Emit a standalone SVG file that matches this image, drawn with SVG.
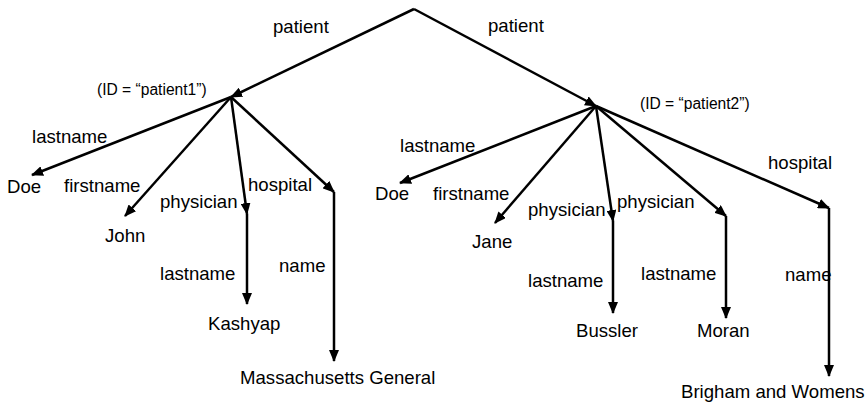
<svg xmlns="http://www.w3.org/2000/svg" width="867" height="404" viewBox="0 0 867 404">
<style>
text{font-family:"Liberation Sans",Arial,sans-serif;font-size:18.6px;fill:#000}
text.id{font-size:15.6px}
.e{stroke:#000;stroke-width:2.5;fill:none;marker-end:url(#ah)}
</style>
<defs>
<marker id="ah" markerUnits="userSpaceOnUse" markerWidth="12" markerHeight="10" refX="11" refY="5" orient="auto" viewBox="0 0 12 10">
<path d="M0,0 L12,5 L0,10 z" fill="#000"/>
</marker>
</defs>
<rect width="867" height="404" fill="#fff"/>
<g id="connectors">
<line class="e" x1="414" y1="9" x2="231" y2="97"/>
<line class="e" x1="414" y1="9" x2="596" y2="106"/>
<line class="e" x1="231" y1="97" x2="32" y2="175"/>
<line class="e" x1="231" y1="97" x2="125" y2="216"/>
<line class="e" x1="231" y1="97" x2="247" y2="214"/>
<line class="e" x1="247" y1="214" x2="247" y2="304"/>
<line class="e" x1="231" y1="97" x2="334" y2="192"/>
<line class="e" x1="334" y1="192" x2="334" y2="361"/>
<line class="e" x1="596" y1="106" x2="400" y2="183"/>
<line class="e" x1="596" y1="106" x2="495" y2="223"/>
<line class="e" x1="596" y1="106" x2="613" y2="221"/>
<line class="e" x1="613" y1="221" x2="613" y2="313"/>
<line class="e" x1="596" y1="106" x2="726" y2="216"/>
<line class="e" x1="726" y1="216" x2="726" y2="318"/>
<line class="e" x1="596" y1="106" x2="829" y2="208"/>
<line class="e" x1="829" y1="208" x2="829" y2="376"/>
</g>
<g id="edge-labels">
<text x="273" y="33">patient</text>
<text x="488" y="32">patient</text>
<text x="32" y="143">lastname</text>
<text x="64" y="192">firstname</text>
<text x="160" y="208">physician</text>
<text x="248" y="191">hospital</text>
<text x="160" y="280">lastname</text>
<text x="279" y="272">name</text>
<text x="400" y="152">lastname</text>
<text x="433" y="200">firstname</text>
<text x="528" y="216">physician</text>
<text x="617" y="208">physician</text>
<text x="528" y="287">lastname</text>
<text x="641" y="280">lastname</text>
<text x="768" y="169">hospital</text>
<text x="785" y="281">name</text>
</g>
<g id="patient1"><text class="id" x="97" y="95">(ID = “patient1”)</text></g>
<g id="patient2"><text class="id" x="640" y="109">(ID = “patient2”)</text></g>
<g id="doe1"><text x="7" y="193">Doe</text></g>
<g id="john"><text x="105" y="242">John</text></g>
<g id="kashyap"><text x="208" y="330">Kashyap</text></g>
<g id="massgeneral"><text x="240" y="384">Massachusetts General</text></g>
<g id="doe2"><text x="375" y="200">Doe</text></g>
<g id="jane"><text x="472" y="248">Jane</text></g>
<g id="bussler"><text x="576" y="337">Bussler</text></g>
<g id="moran"><text x="697" y="337">Moran</text></g>
<g id="brigham"><text x="681" y="398">Brigham and Womens</text></g>
</svg>
